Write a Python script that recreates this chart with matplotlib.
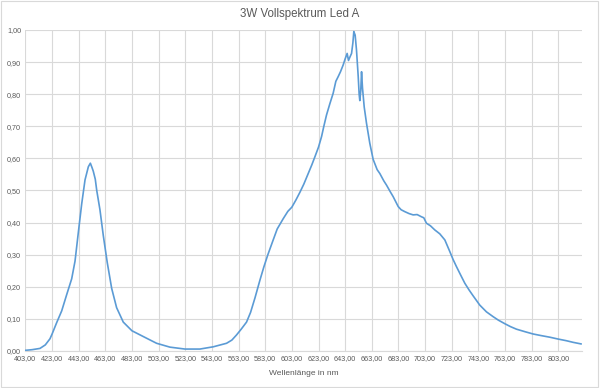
import numpy as np
import matplotlib
matplotlib.use('Agg')
import matplotlib.pyplot as plt
from matplotlib.ticker import FuncFormatter

# Wellenlaenge (nm) und relative Intensitaet
wellenlaenge = [403, 408, 414, 418, 421.5, 423, 426.5, 430.3, 434, 437.8, 440.3, 442.8,
                445.3, 447.8, 450.3, 451.8, 453, 454, 455.5, 456.6, 459, 461.5, 464.5,
                467.8, 471.5, 476.5, 483, 491.5, 501.5, 511.5, 522.8, 534, 544, 554,
                558, 561.5, 565, 569, 572, 575.3, 579, 582, 585, 589, 592, 596.5, 600,
                603, 606, 609, 612, 615.3, 618, 620.3, 623, 625.3, 627, 629, 631.5, 634,
                636, 637.8, 639.5, 641.5, 643, 644.5, 645.5, 646.5, 647.8, 648.8, 649.5,
                650.5, 651.5, 652.8, 653.5, 654, 654.7, 655.3, 656, 657.3, 659, 661.5,
                664, 667, 669, 672, 674, 677, 679, 682.8, 685, 687.8, 691, 694, 697,
                700.3, 702, 704, 707, 710.3, 714, 717.8, 721.5, 724, 726.5, 729.5,
                732.8, 736, 739, 744, 749, 754, 758, 762.8, 767, 771.5, 778, 784, 790,
                796.5, 803, 809, 814, 820]
intensitaet = [0.002, 0.004, 0.008, 0.019, 0.038, 0.052, 0.088, 0.125, 0.175, 0.225, 0.28,
               0.37, 0.458, 0.533, 0.574, 0.585, 0.572, 0.56, 0.535, 0.50, 0.44, 0.36,
               0.275, 0.195, 0.135, 0.09, 0.063, 0.045, 0.024, 0.012, 0.006, 0.006, 0.013,
               0.024, 0.034, 0.05, 0.068, 0.09, 0.12, 0.165, 0.22, 0.262, 0.30, 0.346,
               0.38, 0.412, 0.435, 0.448, 0.47, 0.494, 0.52, 0.553, 0.58, 0.605, 0.635,
               0.668, 0.70, 0.735, 0.77, 0.803, 0.84, 0.855, 0.87, 0.891, 0.91, 0.927,
               0.905, 0.915, 0.927, 0.96, 0.995, 0.984, 0.938, 0.855, 0.80, 0.78, 0.81,
               0.87, 0.82, 0.76, 0.71, 0.647, 0.597, 0.565, 0.553, 0.53, 0.517, 0.495,
               0.481, 0.45, 0.44, 0.434, 0.428, 0.424, 0.425, 0.418, 0.415, 0.398, 0.39,
               0.377, 0.365, 0.346, 0.31, 0.285, 0.263, 0.238, 0.211, 0.19, 0.172, 0.143,
               0.122, 0.107, 0.096, 0.085, 0.076, 0.068, 0.06, 0.053, 0.048, 0.043,
               0.037, 0.032, 0.027, 0.022]

x_ticks = np.arange(403, 804, 20)
y_ticks = np.arange(0, 1.01, 0.1)

plt.rcParams['font.family'] = ['Liberation Sans', 'DejaVu Sans']
grau = '#595959'
gitter = '#D9D9D9'

fig = plt.figure(figsize=(6, 3.88), dpi=100)
ax = fig.add_axes([0.0422, 0.0954, 0.9273, 0.8273])

ax.plot(wellenlaenge, intensitaet, color='#5B9BD5', lw=1.2)

ax.set_xlim(403, 820.5)
ax.set_ylim(0, 1.0)
ax.set_xticks(x_ticks)
ax.set_yticks(y_ticks)
komma = FuncFormatter(lambda v, p: ('%.2f' % v).replace('.', ','))
ax.xaxis.set_major_formatter(komma)
ax.yaxis.set_major_formatter(komma)
ax.tick_params(length=0, labelsize=5.2, labelcolor=grau, pad=3)
ax.grid(True, color=gitter, lw=0.8)
ax.set_axisbelow(True)
for s in ['top', 'right', 'left']:
    ax.spines[s].set_visible(False)
ax.spines['bottom'].set_color(gitter)

ax.set_xlabel('Wellenlänge in nm', fontsize=6, color=grau, labelpad=6)
fig.text(0.5, 0.963, '3W Vollspektrum Led A', ha='center', va='center', fontsize=8.3, color=grau)

# Rahmen um das Diagramm
fig.patches.append(plt.Rectangle((0.002, 0.003), 0.995, 0.994, transform=fig.transFigure,
                                 fill=False, edgecolor=gitter, lw=0.8))

fig.savefig('out.png', dpi=100)
